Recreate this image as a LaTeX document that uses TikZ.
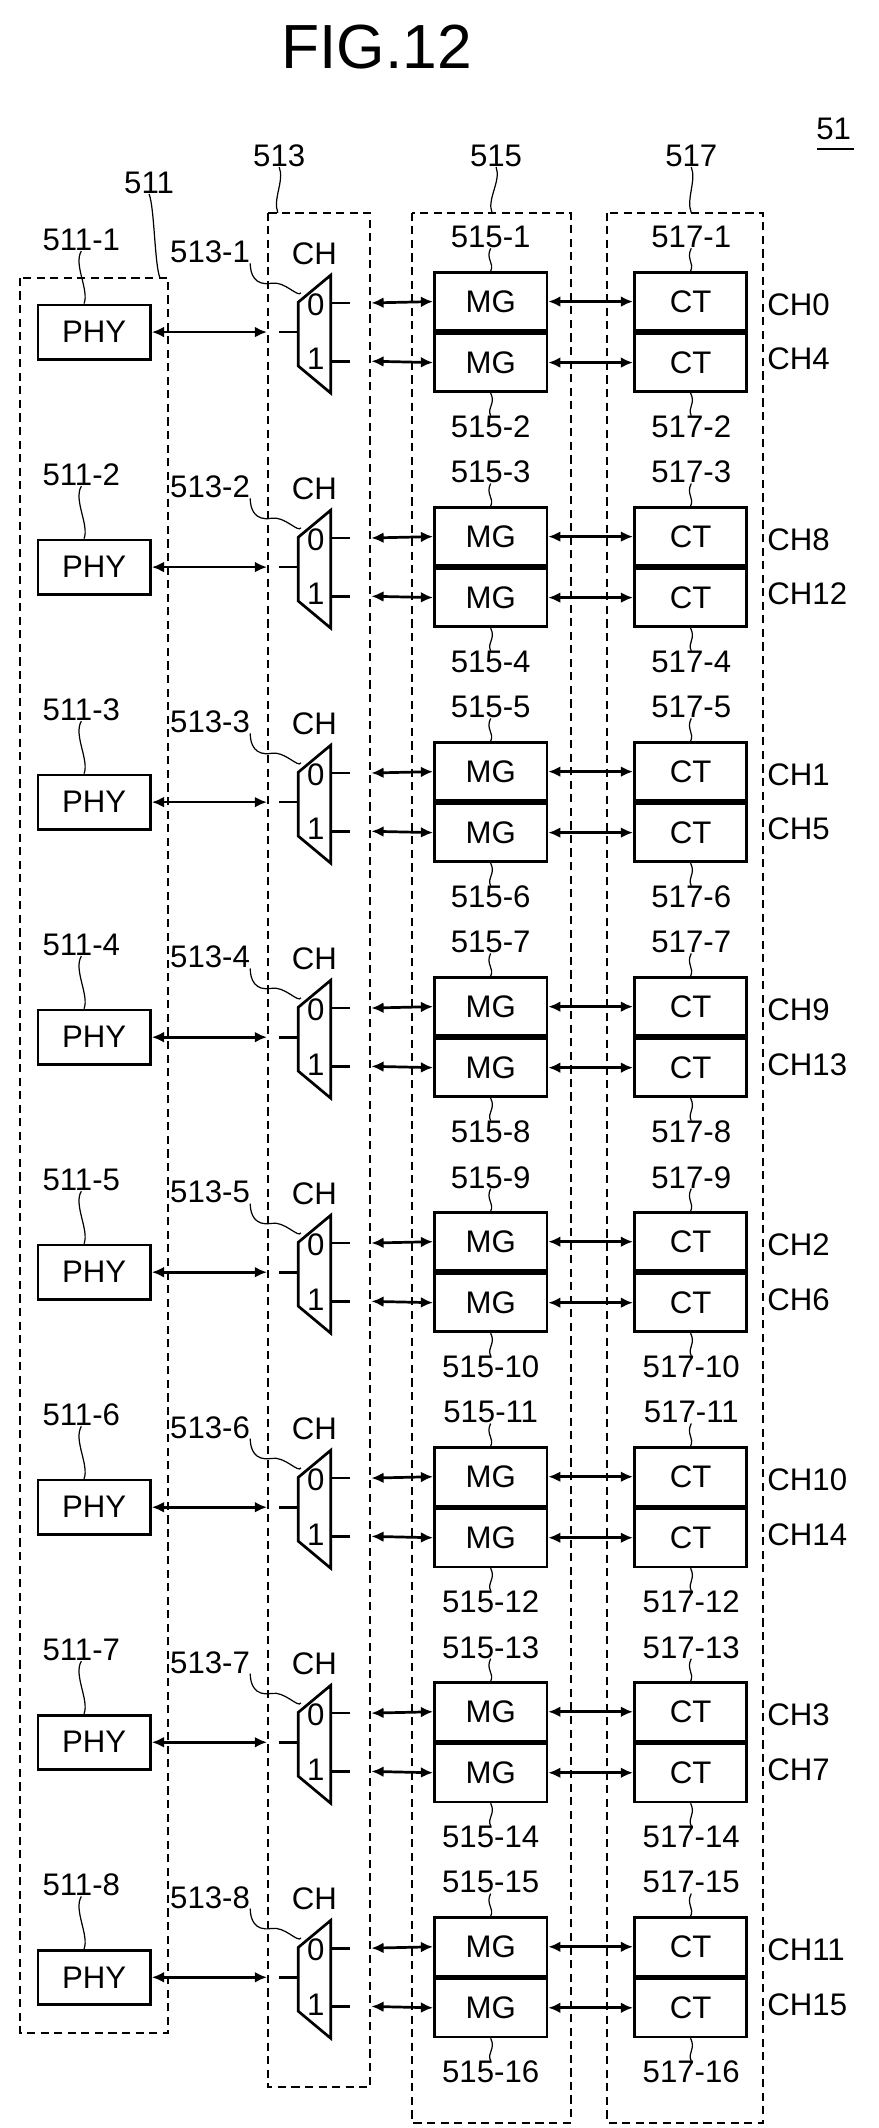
\documentclass[tikz,border=0pt]{standalone}
\usepackage{fontspec}
\setmainfont{Liberation Sans}
\usetikzlibrary{arrows.meta}
\begin{document}
\begin{tikzpicture}[x=1pt,y=1pt,
  txt/.style={inner sep=0pt,font=\fontsize{23}{26}\selectfont},
  blk/.style={draw,line width=2pt,minimum width=83pt,inner sep=0pt,font=\fontsize{23}{26}\selectfont},
  grp/.style={draw,line width=1.4pt,dash pattern=on 6pt off 4pt},
  lead/.style={line width=0.9pt},
  bi/.style={line width=2pt,{Latex[length=9pt,width=8pt]}-{Latex[length=9pt,width=8pt]}},
  stub/.style={line width=2pt}]
\useasboundingbox (0,0) rectangle (648,-1570);
\node[font=\fontsize{46}{50}\selectfont,inner sep=0pt] (title) at (278,-35) {FIG.12};
\node[txt] (l51) at (615,-95) {51};
\draw[line width=1.8pt] (603,-110) -- (630,-110);
% group boxes
\draw[grp] (15,-205) rectangle (124,-1500);
\draw[grp] (198,-157) rectangle (273,-1540);
\draw[grp] (304,-157) rectangle (421,-1566);
\draw[grp] (448,-157) rectangle (563,-1566);
\node[txt] (g511) at (110,-135) {511};
\node[txt] (g513) at (206,-115) {513};
\node[txt] (g515) at (366,-115) {515};
\node[txt] (g517) at (510,-115) {517};
\coordinate (t511) at (118,-205); \coordinate (t513) at (205,-157);
\coordinate (t515) at (363,-157); \coordinate (t517) at (510,-157);
\foreach \a in {511,513,515,517}{
  \draw[lead] (g\a.south) .. controls +(4,-10) and +(-4,10) .. (t\a);}
\foreach \i/\ca/\cb in {1/CH0/CH4,2/CH8/CH12,3/CH1/CH5,4/CH9/CH13,5/CH2/CH6,6/CH10/CH14,7/CH3/CH7,8/CH11/CH15}{
  \pgfmathsetmacro{\c}{-245-(\i-1)*173.4}
  \pgfmathtruncatemacro{\ma}{2*\i-1}
  \pgfmathtruncatemacro{\mb}{2*\i}
  \node[blk,minimum height=40pt] (phy\i) at (69.5,\c) {PHY};
  \node[blk,minimum height=43pt,anchor=south] (mga\i) at (362,\c) {MG};
  \node[blk,minimum height=43pt,anchor=north] (mgb\i) at (362,\c) {MG};
  \node[blk,minimum height=43pt,anchor=south] (cta\i) at (509.5,\c) {CT};
  \node[blk,minimum height=43pt,anchor=north] (ctb\i) at (509.5,\c) {CT};
  % mux
  \draw[line width=2pt] (220,\c+22) -- (244,\c+42) -- (244,\c-45) -- (220,\c-25) -- cycle;
  \coordinate (mi\i) at (220,\c);
  \coordinate (mo0\i) at (244,\c+21.5);
  \coordinate (mo1\i) at (244,\c-21.5);
  \node[txt] (z\i) at (233,\c+20) {0};
  \node[txt] (o\i) at (233,\c-20) {1};
  \node[txt] (ch\i) at (232,\c+58) {CH};
  % stubs and arrows
  \coordinate (pl\i) at (197,\c);
  \coordinate (ps\i) at (206,\c);
  \draw[stub] (ps\i) -- (mi\i);
  \draw[bi] (phy\i.east) -- (pl\i);
  \coordinate (q0\i) at (258,\c+21.5); \coordinate (q1\i) at (258,\c-21.5);
  \coordinate (r0\i) at (274,\c+21.5); \coordinate (r1\i) at (274,\c-21.5);
  \draw[stub] (mo0\i) -- (q0\i); \draw[stub] (mo1\i) -- (q1\i);
  \draw[bi] (r0\i) -- (mga\i.west);
  \draw[bi] (r1\i) -- (mgb\i.west);
  \draw[bi] (mga\i.east) -- (cta\i.west);
  \draw[bi] (mgb\i.east) -- (ctb\i.west);
  % labels
  \node[txt] (lp\i) at (60,\c+68) {511-\i};
  \draw[lead] (lp\i.south) .. controls +(-6,-10) and +(4,10) .. (phy\i.north-|62,0);
  \node[txt] (lm\i) at (155,\c+59) {513-\i};
  \draw[lead] (lm\i.south east) .. controls +(0,-8) and +(-12,-2) .. (200,\c+36) .. controls +(10,2) and +(-2,-4) .. (222,\c+29);
  \node[txt] (lga\i) at (362,\c+70) {515-\ma};
  \draw[lead] (lga\i.south) .. controls +(-4,-8) and +(3,6) .. (mga\i.north);
  \node[txt] (lgb\i) at (362,\c-70) {515-\mb};
  \draw[lead] (mgb\i.south) .. controls +(4,-8) and +(-3,6) .. (lgb\i.north);
  \node[txt] (lca\i) at (510,\c+70) {517-\ma};
  \draw[lead] (lca\i.south) .. controls +(-4,-8) and +(3,6) .. (cta\i.north);
  \node[txt] (lcb\i) at (510,\c-70) {517-\mb};
  \draw[lead] (ctb\i.south) .. controls +(4,-8) and +(-3,6) .. (lcb\i.north);
  \node[txt,anchor=west] (cha\i) at (566,\c+20) {\ca};
  \node[txt,anchor=west] (chb\i) at (566,\c-20) {\cb};
}
\end{tikzpicture}
\end{document}
